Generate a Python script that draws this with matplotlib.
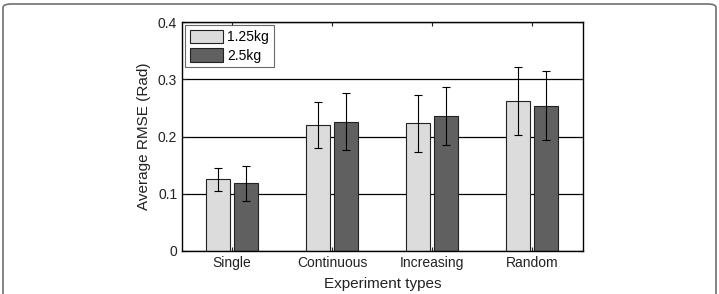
import matplotlib
matplotlib.use('Agg')
import matplotlib.pyplot as plt
from matplotlib.patches import FancyBboxPatch
import numpy as np

plt.rcParams['font.family'] = ['Liberation Sans', 'DejaVu Sans']

categories = ['Single', 'Continuous', 'Increasing', 'Random']
light_vals = [0.125, 0.220, 0.223, 0.262]
light_err = [0.020, 0.040, 0.050, 0.060]
dark_vals = [0.118, 0.226, 0.236, 0.254]
dark_err = [0.030, 0.050, 0.050, 0.060]
series_labels = ['1.25kg', '2.5kg']

fig = plt.figure(figsize=(7.19, 2.94), dpi=100)
ax = fig.add_axes([182/719, 1-251/294, 401/719, 229/294])

# outer rounded frame
frame = FancyBboxPatch((3/719, -0.2), 713/719, 1.2 - 4/294,
                       boxstyle='round,pad=0,rounding_size=0.012',
                       transform=fig.transFigure, fill=False,
                       edgecolor='#707070', linewidth=1.2, zorder=0)
fig.patches.append(frame)

x = np.arange(1, len(categories) + 1)
w = 0.235
ax.yaxis.grid(True, color='black', linewidth=0.9)
ax.set_axisbelow(True)
ax.bar(x - 0.142, light_vals, w, color='#dcdcdc', edgecolor='#222222',
       linewidth=0.8, label=series_labels[0], zorder=2)
ax.bar(x + 0.142, dark_vals, w, color='#606060', edgecolor='#222222',
       linewidth=0.8, label=series_labels[1], zorder=2)
ax.errorbar(x - 0.142, light_vals, yerr=light_err, fmt='none', ecolor='black',
            elinewidth=0.8, capsize=3, capthick=0.8, zorder=3)
ax.errorbar(x + 0.142, dark_vals, yerr=dark_err, fmt='none', ecolor='black',
            elinewidth=0.8, capsize=3, capthick=0.8, zorder=3)

ax.set_xlim(0.5, 4.51)
ax.set_ylim(0, 0.4)
ax.set_xticks(x)
ax.set_xticklabels(categories)
ax.set_yticks([0, 0.1, 0.2, 0.3, 0.4])
ax.set_yticklabels(['0', '0.1', '0.2', '0.3', '0.4'])
ax.tick_params(direction='in', top=True, right=True, length=3, labelsize=10,
               colors='#222222', width=0.8)
for s in ax.spines.values():
    s.set_linewidth(1.0)
    s.set_color('black')
ax.set_xlabel('Experiment types', fontsize=11, color='#222222', labelpad=5)
ax.set_ylabel('Average RMSE (Rad)', fontsize=11, color='#222222', labelpad=5)

leg = ax.legend(loc='upper left', fontsize=10, fancybox=False, edgecolor='#444444',
                borderaxespad=0.2, handlelength=2.4, handleheight=1.1,
                handletextpad=0.3, labelspacing=0.3, borderpad=0.35)
leg.get_frame().set_linewidth(0.8)
for h in leg.legend_handles:
    h.set_edgecolor('#222222')

fig.savefig('out.png', dpi=100)
